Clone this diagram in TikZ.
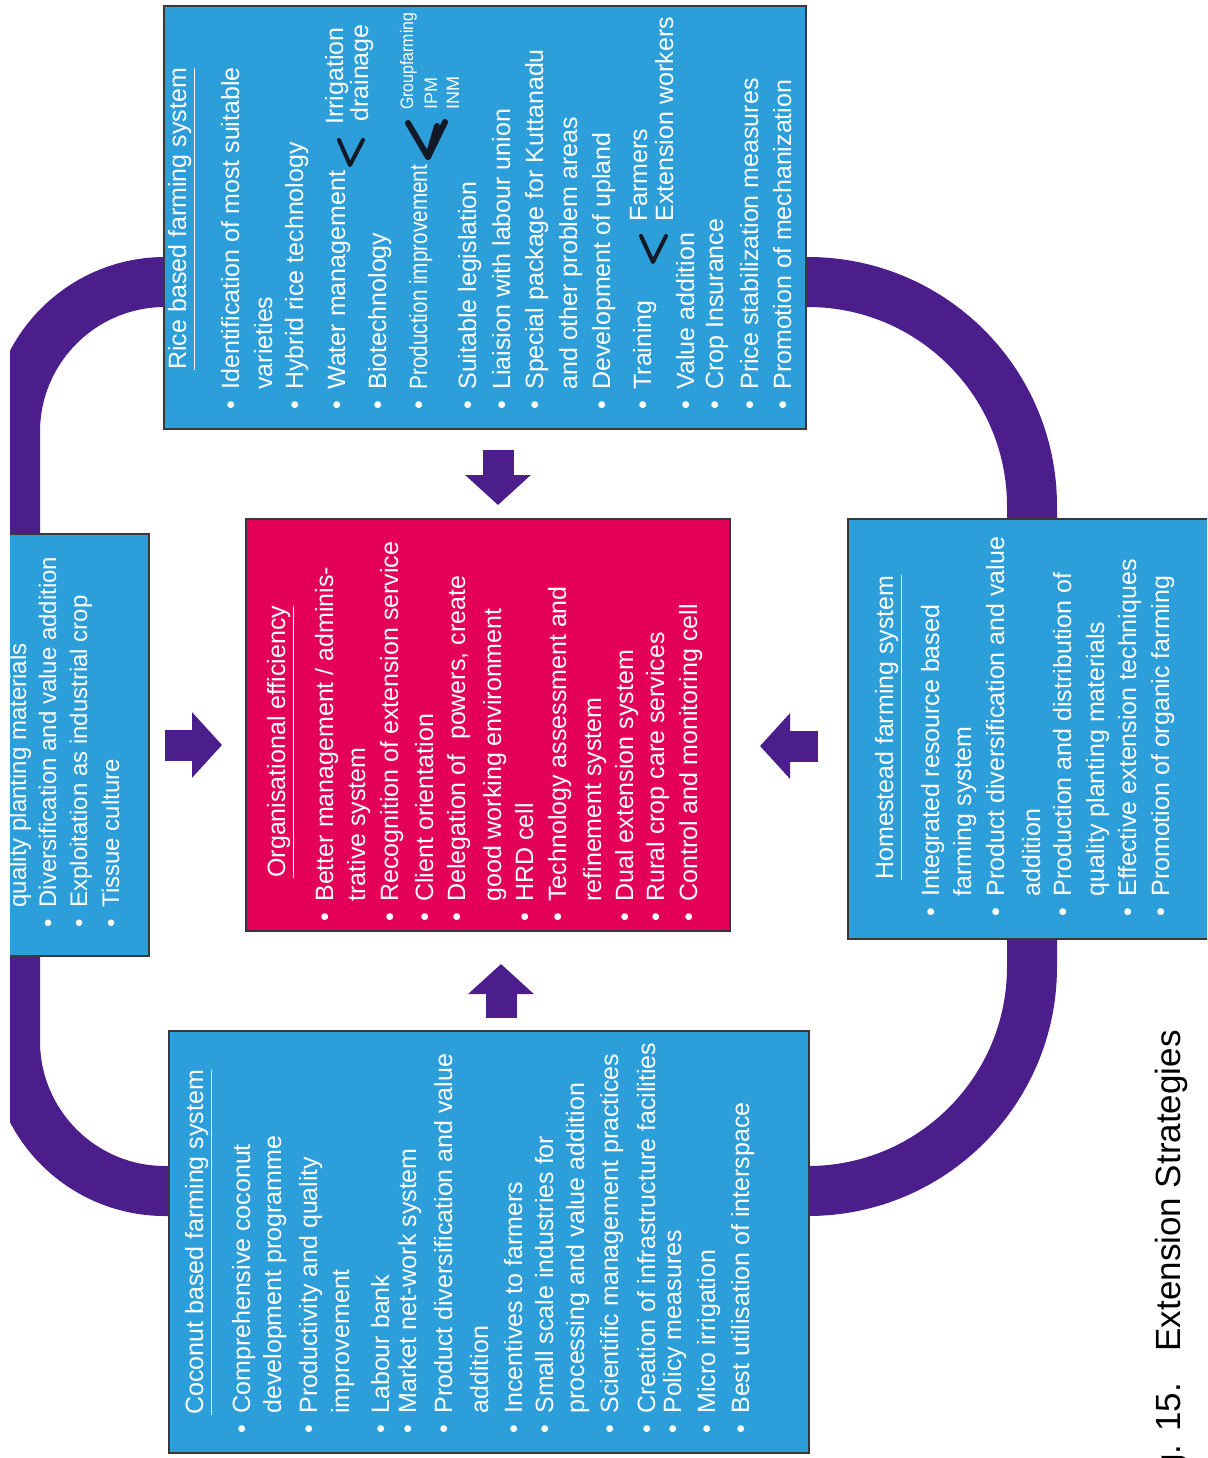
\documentclass[tikz,border=0pt]{standalone}
\usepackage{fontspec}
\setmainfont{Liberation Sans}
\usetikzlibrary{arrows.meta}
\definecolor{farmblue}{RGB}{44,158,218}
\definecolor{orgred}{RGB}{228,0,88}
\definecolor{ringpurple}{RGB}{76,30,140}
\definecolor{boxline}{RGB}{55,55,60}
\definecolor{inkblack}{RGB}{20,25,40}
\newcommand\bodysize{\fontsize{12.5}{15}\selectfont}
\newcommand\leftsize{\fontsize{12}{14}\selectfont}
\newcommand\notesize{\fontsize{9}{10}\selectfont}
\newcommand\capsize{\fontsize{17.5}{20}\selectfont}
\tikzset{%
	farmbox/.style  = {draw=boxline, line width=1pt, fill=farmblue, anchor=north west, inner sep=0pt},
	orgbox/.style   = {farmbox, fill=orgred},
	linetxt/.style  = {rotate=90, anchor=base west, inner sep=0pt, text=white, font=\bodysize},
	loopband/.style = {line width=25pt, draw=ringpurple},
	fatarrow/.style = {line width=15.5pt, draw=ringpurple, -{Triangle[width=32pt,length=15pt]}},
	handmark/.style = {draw=inkblack, line width=2pt, line cap=round, line join=round},
}
\begin{document}
\begin{tikzpicture}[x=0.5pt, y=-0.5pt]
		\useasboundingbox (0,0) rectangle (1207,1458);
		\clip (10,0) rectangle (1207,1458);
		
		% purple loop behind the boxes
		\draw[loopband, rounded corners=112pt] (500,282) -- (1032,282) -- (1032,1191) -- (500,1191)
			[rounded corners=75pt] -- (15,1191) -- (15,282) -- cycle;
		
		% boxes
		\node[farmbox, minimum width=321pt, minimum height=211.5pt] (rice) at (163,5) {};
		\node[farmbox, minimum width=84pt, minimum height=211pt] (lefty) at (-20,533) {};
		\node[orgbox, minimum width=242pt, minimum height=206pt] (org) at (245,518) {};
		\node[farmbox, minimum width=191.5pt, minimum height=210pt] (home) at (847,518) {};
		\node[farmbox, minimum width=320pt, minimum height=211pt] (coco) at (168,1030) {};
		
		% block arrows into the centre
		\draw[fatarrow, shorten <=10pt, shorten >=6.5pt] ([xshift=6.5pt]rice.south) -- ([xshift=6.5pt]rice.south |- org.north);
		\draw[fatarrow, shorten <=6pt, shorten >=16pt] ([xshift=6pt]coco.north) -- ([xshift=6pt]coco.north |- org.south);
		\draw[fatarrow, shorten <=7.5pt, shorten >=11.5pt] (lefty.east) -- (lefty.east -| org.west);
		\coordinate (rarrow) at ([yshift=-8.5pt]home.west);
		\draw[fatarrow, shorten <=14.5pt, shorten >=14.5pt] (rarrow) -- (rarrow -| org.east);
		
		% rice based farming system
		\node[linetxt] (ricehead) at (186,370) {\underline{Rice based farming system}};
		\foreach \bl/\bu/\tx [count=\n] in {239/1/{Identification of most suitable}, 272/0/{varieties},
			303/1/{Hybrid rice technology}, 345/1/{Water management}, 386/1/{Biotechnology},
			427/1/{\scalebox{0.83}[1]{Production improvement}}, 476/1/{Suitable legislation},
			510/1/{Liaision with labour union}, 543/1/{Special package for Kuttanadu},
			577/0/{and other problem areas}, 610/1/{Development of upland}, 651/1/{Training},
			694/1/{Value addition}, 723/1/{Crop Insurance}, 758/1/{Price stabilization measures},
			791/1/{Promotion of mechanization}}
			\node[linetxt] (rice-\n) at (\bl,410) {\makebox[10pt][l]{\ifnum\bu=1 \textbullet\fi}\tx};
		\node[linetxt] (irrig) at (343,125) {Irrigation};
		\node[linetxt] (drain) at (368,122) {drainage};
		\node[linetxt, font=\notesize] (grpf) at (413,110) {\scalebox{0.88}[1]{Groupfarming}};
		\node[linetxt, font=\notesize] (ipm) at (437,110) {IPM};
		\node[linetxt, font=\notesize] (inm) at (459,110) {INM};
		\node[linetxt] (farm) at (647,222) {Farmers};
		\node[linetxt] (extw) at (673,222) {Extension\hspace{.3em}workers};
		\draw[handmark] (339,140) -- (350,165) -- (363,140);
		\draw[handmark, line width=3pt] (408,123) -- (428,157) -- (445,122);
		\draw[handmark, line width=3pt] (437,126) -- (428,157);
		\draw[handmark] (641,236) -- (653,262) -- (666,236);
		
		% cut-off box on the left
		\foreach \bl/\bu/\tx [count=\n] in {26/0/{quality planting materials},
			56/1/{Diversification and value addition}, 87/1/{Exploitation as industrial crop},
			119/1/{Tissue culture}}
			\node[linetxt, font=\leftsize] (lefty-\n) at (\bl,928) {\makebox[10pt][l]{\ifnum\bu=1 \textbullet\fi}\tx};
		
		% organisational efficiency
		\node[linetxt] (orghead) at (285,878) {\underline{Organisational efficiency}};
		\foreach \bl/\bu/\tx [count=\n] in {333/1/{Better management / adminis-}, 365/0/{trative system},
			398/1/{Recognition of extension service}, 433/1/{Client orientation},
			465/1/{Delegation of\hspace{.3em} powers, create}, 501/0/{good working environment},
			533/1/{HRD cell}, 566/1/{Technology assessment and}, 601/0/{refinement system},
			633/1/{Dual extension system}, 664/1/{Rural crop care services},
			697/1/{Control and monitoring cell}}
			\node[linetxt] (org-\n) at (\bl,922) {\makebox[10pt][l]{\ifnum\bu=1 \textbullet\fi}\tx};
		
		% homestead farming system
		\node[linetxt] (homehead) at (893,880) {\underline{Homestead farming system}};
		\foreach \bl/\bu/\tx [count=\n] in {939/1/{Integrated resource based}, 971/0/{farming system},
			1004/1/{Product diversification and value}, 1040/0/{addition},
			1071/1/{Production and distribution of}, 1104/0/{quality planting materials},
			1136/1/{Effective extension techniques}, 1169/1/{Promotion of organic farming}}
			\node[linetxt] (home-\n) at (\bl,917) {\makebox[10pt][l]{\ifnum\bu=1 \textbullet\fi}\tx};
		
		% coconut based farming system
		\node[linetxt] (cocohead) at (203,1415) {\underline{Coconut based farming system}};
		\foreach \bl/\bu/\tx [count=\n] in {250/1/{Comprehensive coconut}, 281/0/{development programme},
			317/1/{Productivity and quality}, 349/0/{improvement}, 389/1/{Labour bank},
			416/1/{Market net-work system}, 452/1/{Product diversification and value},
			488/0/{addition}, 522/1/{Incentives to farmers}, 553/1/{Small scale industries for},
			584/0/{processing and value addition}, 618/1/{Scientific management practices},
			655/1/{Creation of infrastructure facilities}, 681/1/{Policy measures},
			715/1/{Micro irrigation}, 749/1/{Best utilisation of interspace}}
			\node[linetxt] (coco-\n) at (\bl,1434) {\makebox[10pt][l]{\ifnum\bu=1 \textbullet\fi}\tx};
		
		% caption, cut by the page edge
		\node[linetxt, anchor=base east, text=black, font=\capsize] (caption) at (1180,1030) {Fig. 15.\hspace{.9em}Extension Strategies};
\end{tikzpicture}
\end{document}
